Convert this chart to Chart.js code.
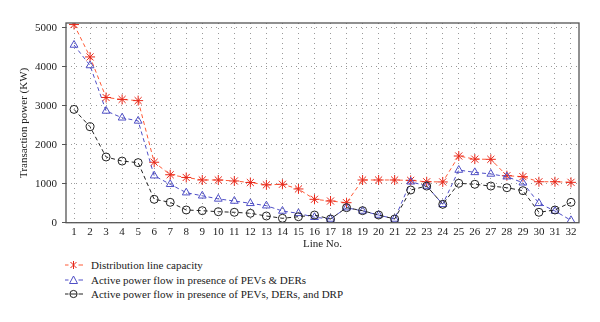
<!DOCTYPE html>
<html>
<head>
<meta charset="utf-8">
<script src="https://cdn.jsdelivr.net/npm/chart.js@4/dist/chart.umd.min.js"></script>
<style>
  html, body { margin: 0; padding: 0; background: #fff; }
  body { width: 600px; height: 322px; position: relative; overflow: hidden; }
  #wrap { position: absolute; left: 0; top: 0; width: 600px; height: 252px; }
  #legend { position: absolute; left: 64px; top: 258px; font-family: "Liberation Serif", "DejaVu Serif", serif; font-size: 11px; color: #222; }
  #legend div { height: 14.5px; line-height: 14.5px; display: flex; align-items: center; }
  #legend svg { margin-right: 7px; }
</style>
</head>
<body>
<div id="wrap"><canvas id="chart"></canvas></div>
<div id="legend"></div>
<script>
// line numbers 1..32
const lines = ['1','2','3','4','5','6','7','8','9','10','11','12','13','14','15','16',
  '17','18','19','20','21','22','23','24','25','26','27','28','29','30','31','32'];

const capacity = [5080, 4250, 3210, 3160, 3130, 1550, 1230, 1160, 1095, 1095, 1070, 1030,
  970, 985, 865, 600, 556, 513, 1095, 1095, 1095, 1085, 1050, 1045, 1710, 1630, 1625,
  1205, 1180, 1050, 1050, 1035];

const flowPevDer = [4556, 4030, 2865, 2690, 2610, 1205, 985, 770, 690, 610, 556, 497,
  436, 300, 240, 140, 95, 385, 300, 197, 95, 1050, 940, 472, 1350, 1290, 1250,
  1180, 1025, 497, 300, 60];

const flowPevDerDrp = [2905, 2460, 1685, 1580, 1540, 600, 523, 326, 308, 282, 267, 241,
  172, 113, 154, 197, 95, 385, 308, 197, 95, 838, 940, 472, 1010, 985, 940,
  897, 821, 267, 326, 523];

const yTicks = [0, 1000, 2000, 3000, 4000, 5000];

const seriesNames = [
  'Distribution line capacity',
  'Active power flow in presence of PEVs & DERs',
  'Active power flow in presence of PEVs, DERs, and DRP'
];

const FONT = '"Liberation Serif", "DejaVu Serif", serif';
const RED_LINE = '#ff5a36', RED_MARK = '#e8281a';
const BLUE = '#4f4fc6';
const BLACK = '#222';

// full box around the plotting area
const frame = {
  id: 'frame',
  afterDraw(chart) {
    const { ctx, chartArea: a } = chart;
    ctx.save();
    ctx.strokeStyle = '#555';
    ctx.lineWidth = 1.3;
    ctx.strokeRect(a.left, a.top, a.right - a.left, a.bottom - a.top);
    ctx.restore();
  }
};

const ds = (label, data, line, mark, style, radius) => ({
  label, data,
  borderColor: line,
  borderWidth: 1,
  borderDash: [4, 3],
  pointStyle: style,
  pointRadius: radius,
  pointBorderColor: mark,
  pointBackgroundColor: 'rgba(0,0,0,0)',
  pointBorderWidth: 1,
  fill: false,
  tension: 0
});

const chart = new Chart(document.getElementById('chart'), {
  type: 'line',
  data: {
    labels: lines,
    datasets: [
      ds(seriesNames[2], flowPevDerDrp, BLACK, BLACK, 'circle', 4),
      ds(seriesNames[1], flowPevDer, BLUE, BLUE, 'triangle', 4.5),
      ds(seriesNames[0], capacity, RED_LINE, RED_MARK, 'star', 5)
    ]
  },
  options: {
    responsive: true,
    maintainAspectRatio: false,
    animation: false,
    layout: { padding: { left: 18, right: 21, top: 23, bottom: 0 } },
    plugins: { legend: { display: false }, tooltip: { enabled: false } },
    scales: {
      x: {
        offset: true,
        grid: { color: '#9a9a9a', drawTicks: false },
        border: { display: false, dash: [1, 4] },
        ticks: { color: '#222', font: { family: FONT, size: 11 }, padding: 3, maxRotation: 0, autoSkip: false },
        title: { display: true, text: 'Line No.', color: '#222', font: { family: FONT, size: 11 }, padding: { top: 0, bottom: 1 } },
        afterFit(scale) { scale.height = 29.3; }
      },
      y: {
        min: 0, max: 5120,
        afterBuildTicks(scale) {
          scale.ticks = yTicks.map(v => ({ value: v }));
        },
        grid: { color: '#9a9a9a', tickLength: 4, tickColor: '#555', tickBorderDash: [] },
        border: { display: false, dash: [1, 4] },
        ticks: { color: '#222', font: { family: FONT, size: 11 }, padding: 5, callback: v => String(v) },
        title: { display: true, text: 'Transaction power (KW)', color: '#222', font: { family: FONT, size: 11 }, padding: { top: 0, bottom: 0 } },
        afterFit(scale) { scale.width = 48; }
      }
    }
  },
  plugins: [frame]
});

// legend: dashed stub with the series marker in the middle
const icons = [
  { color: RED_LINE, mark: `<g stroke="${RED_MARK}" stroke-width="1"><line x1="6.5" y1="4" x2="12.5" y2="10"/><line x1="12.5" y1="4" x2="6.5" y2="10"/><line x1="9.5" y1="3" x2="9.5" y2="11"/></g>` },
  { color: BLUE, mark: `<polygon points="9.5,3 13.5,10.5 5.5,10.5" fill="none" stroke="${BLUE}" stroke-width="1"/>` },
  { color: BLACK, mark: `<circle cx="9.5" cy="7" r="3.6" fill="none" stroke="${BLACK}" stroke-width="1"/><line x1="6" y1="7" x2="13" y2="7" stroke="${BLACK}" stroke-width="1"/>` }
];
const legend = document.getElementById('legend');
seriesNames.forEach((name, i) => {
  const row = document.createElement('div');
  row.innerHTML = `<svg width="20" height="14"><line x1="1" y1="7" x2="4.5" y2="7" stroke="${icons[i].color}" stroke-width="1"/>` +
    `<line x1="14.5" y1="7" x2="19" y2="7" stroke="${icons[i].color}" stroke-width="1"/>${icons[i].mark}</svg><span>${name}</span>`;
  legend.appendChild(row);
});
</script>
</body>
</html>
